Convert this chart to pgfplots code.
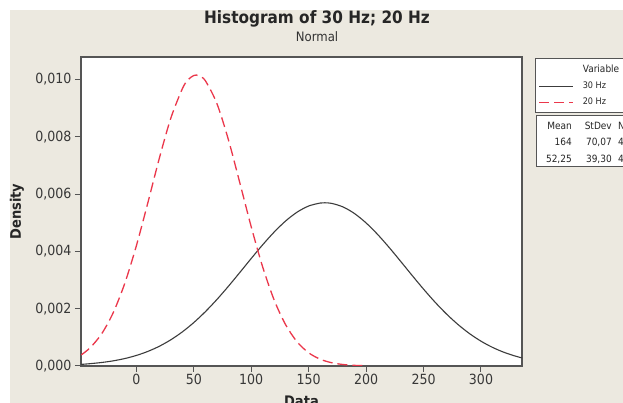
\documentclass[border=0pt]{standalone}
\usepackage{fontspec}
\setmainfont{DejaVu Sans}[FakeStretch=0.9]
\usepackage{pgfplots}
\pgfplotsset{compat=1.18}
\definecolor{bg}{RGB}{236,233,224}
\definecolor{frame}{RGB}{85,85,85}
\definecolor{txt}{RGB}{55,55,55}
\definecolor{redc}{RGB}{235,55,75}
\definecolor{blk}{RGB}{60,60,60}
\begin{document}
\begin{tikzpicture}[x=1pt,y=1pt]
\clip (0,0) rectangle (623,403);
\fill[white] (0,0) rectangle (623,403);
\fill[bg] (10,0) rectangle (623,393);
\node[anchor=base, font=\bfseries\fontsize{17}{19}\selectfont, text=black!85] at (317,379) {Histogram of 30 Hz; 20 Hz};
\node[anchor=base, font=\fontsize{13}{15}\selectfont, text=black!80] at (317,361) {Normal};
\begin{axis}[
  at={(81pt,37pt)}, anchor=south west, scale only axis,
  width=441pt, height=309pt,
  xmin=-48.2, xmax=335.7, ymin=0, ymax=0.01078,
  axis background/.style={fill=white},
  axis line style={frame, line width=1.3pt},
  xtick={0,50,...,300},
  ytick={0,0.002,0.004,0.006,0.008,0.010},
  xtick pos=bottom, ytick pos=left, tick align=outside,
  major tick length=6pt,
  tick style={frame, line width=1pt},
  /pgf/number format/assume math mode=true,
  scaled y ticks=false,
  yticklabel style={/pgf/number format/.cd, fixed, fixed zerofill, precision=3, use comma},
  ticklabel style={font=\fontsize{14}{16}\selectfont, text=txt},
  xticklabel style={yshift=1pt},
  xlabel={\textbf{Data}}, ylabel={\textbf{Density}},
  label style={font=\bfseries\fontsize{14.5}{16}\selectfont, text=black!85},
  xlabel style={at={(axis description cs:0.5,0)}, anchor=north, yshift=-26pt},
  ylabel style={at={(axis description cs:-0.145,0.5)}, anchor=center},
  legend style={at={(rel axis cs:1.0295,0.9968)}, anchor=north west,
    draw=frame, line width=1pt, fill=white,
    font=\fontsize{9}{10}\selectfont, text=black!85,
    row sep=4pt, column sep=7pt, inner xsep=3pt, inner ysep=4.5pt},
  legend cell align=left,
  legend image code/.code={\draw[#1] (0pt,0pt) -- (34pt,0pt);},
]
\addlegendimage{empty legend}
\addlegendentry{\fontsize{10}{11}\selectfont Variable\hspace*{40pt}}
\addplot[blk, line width=1.1pt, smooth] table {
x y
-48 0.0000558
-40 0.0000822
-30 0.0001233
-20 0.0001811
-10 0.0002608
0 0.0003681
10 0.0005088
20 0.0006891
30 0.0009147
40 0.0011895
50 0.0015157
60 0.0018926
70 0.0023152
80 0.0027755
90 0.0032600
100 0.0037519
110 0.0042309
120 0.0046750
130 0.0050617
140 0.0053696
150 0.0055815
160 0.0056847
164 0.0056940
170 0.0056732
180 0.0055475
190 0.0053152
200 0.0049900
210 0.0045903
220 0.0041375
230 0.0036537
240 0.0031620
250 0.0026812
260 0.0022274
270 0.0018134
280 0.0014465
290 0.0011304
300 0.0008657
310 0.0006496
320 0.0004777
330 0.0003441
336 0.0002790
};
\addlegendentry{30 Hz}
\addplot[redc, line width=1.3pt, dash pattern=on 10pt off 5pt, smooth] table {
x y
-48 0.000386
-40 0.000646
-30 0.001136
-20 0.001873
-10 0.002895
0 0.004195
10 0.005696
20 0.007249
30 0.008648
40 0.009670
45 0.009990
50 0.010134
52.25 0.010151
55 0.010113
60 0.009956
70 0.009167
80 0.007911
90 0.006399
100 0.004853
110 0.003449
120 0.002297
130 0.001434
140 0.000839
150 0.000460
160 0.000237
170 0.000114
180 0.0000515
190 0.0000218
200 0.0000087
};
\addlegendentry{20 Hz}
\end{axis}
\draw[frame, line width=1pt, fill=white] (536,236) rectangle (650,287);
\begin{scope}[every node/.style={font=\fontsize{10}{11}\selectfont, text=black!85, inner sep=0pt}]
\node[anchor=base east] at (572,273) {Mean};
\node[anchor=base east] at (612,273) {StDev};
\node[anchor=base west] at (618,273) {N};
\node[anchor=base east] at (572,257) {164};
\node[anchor=base east] at (612,257) {70,07};
\node[anchor=base west] at (618,257) {40};
\node[anchor=base east] at (572,240) {52,25};
\node[anchor=base east] at (612,240) {39,30};
\node[anchor=base west] at (618,240) {40};
\end{scope}
\end{tikzpicture}
\end{document}
